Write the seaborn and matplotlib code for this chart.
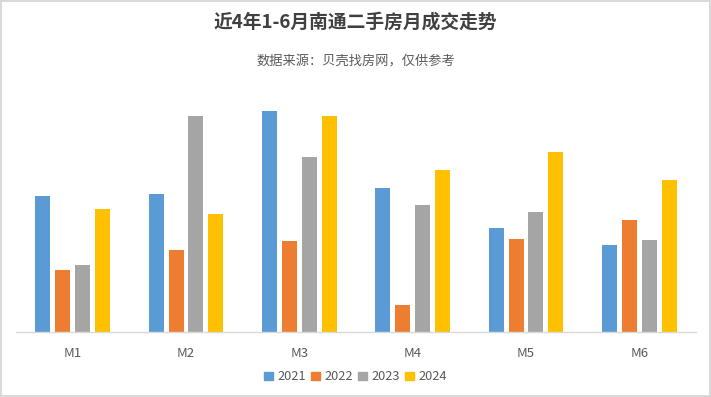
import pandas as pd
import matplotlib.pyplot as plt
import seaborn as sns

# data (relative bar heights)
months = ["M1", "M2", "M3", "M4", "M5", "M6"]
years = ["2021", "2022", "2023", "2024"]
v2021 = [135, 137, 220, 143, 103, 87]
v2022 = [62, 82, 91, 27, 93, 111]
v2023 = [67, 215, 174, 126, 119, 92]
v2024 = [122, 117, 215, 161, 179, 151]
colors = ["#5B9BD5", "#ED7D31", "#A5A5A5", "#FFC000"]

rows = []
for year, vals in zip(years, [v2021, v2022, v2023, v2024]):
    for m, v in zip(months, vals):
        rows.append({"month": m, "year": year, "value": v})
df = pd.DataFrame(rows)

sns.set_style("white")
plt.rcParams["font.family"] = ["Noto Sans CJK SC", "DejaVu Sans"]

W, H = 711, 397
fig = plt.figure(figsize=(W / 100, H / 100), dpi=100,
                 edgecolor="#D9D9D9", linewidth=1.5)
ax = fig.add_axes([16 / W, (H - 331.5) / H, 680 / W, 231.5 / H])

sns.barplot(data=df, x="month", y="value", hue="year", palette=colors,
            width=0.705, gap=0.25, errorbar=None, saturation=1,
            linewidth=0, ax=ax)

ax.set_ylim(0, 231.5)
ax.set_xlim(-0.5, 5.5)
ax.set_xlabel("")
ax.set_ylabel("")
ax.set_yticks([])
for s in ["top", "left", "right"]:
    ax.spines[s].set_visible(False)
ax.spines["bottom"].set_color("#D9D9D9")
ax.spines["bottom"].set_linewidth(1)
ax.tick_params(axis="x", length=0, pad=11, labelsize=9.5, labelcolor="#595959")

ax.legend_.remove()
handles = [plt.Rectangle((0, 0), 1, 1, color=c) for c in colors]
fig.legend(handles, years, loc="center", bbox_to_anchor=(0.5, (H - 377) / H),
           ncol=4, frameon=False, handlelength=0.65, handleheight=0.65,
           handletextpad=0.35, columnspacing=0.45, fontsize=9.2,
           labelcolor="#595959")

fig.text(0.5, (H - 22) / H, "近4年1-6月南通二手房月成交走势", ha="center", va="center",
         fontsize=13.5, fontweight="bold", color="#404040")
fig.text(0.5, (H - 62) / H, "数据来源：贝壳找房网，仅供参考", ha="center", va="center",
         fontsize=9.5, color="#595959")

fig.savefig("out.png", dpi=100, edgecolor=fig.get_edgecolor())
